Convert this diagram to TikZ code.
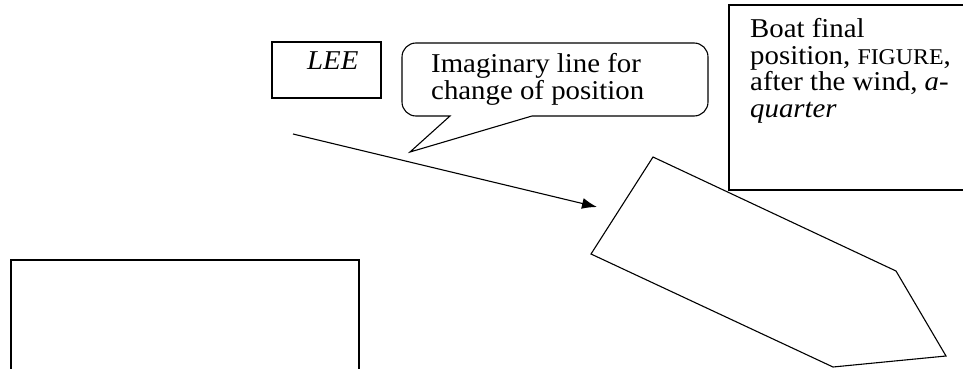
\documentclass[tikz,border=0pt]{standalone}
\usepackage{fontspec}
\setmainfont{Liberation Serif}[FakeStretch=1.06]
\usetikzlibrary{arrows.meta}
\tikzset{
  lbl/.style={anchor=base west, inner sep=0pt, font=\fontsize{27.2}{26.7}\selectfont, align=left},
  frame/.style={draw=black, line width=1.1pt},
}
\begin{document}
\begin{tikzpicture}[x=1pt,y=-1pt, line join=miter]
\useasboundingbox (0,0) rectangle (963,369);
\fill[white] (0,0) rectangle (963,369);
\begin{scope}
\clip (0,0) rectangle (963,369);
% LEE box
\draw[frame] (272,42) rectangle (381,98);
\node[lbl] (lee) at (307,70) {\itshape LEE};
% callout
\draw[frame] (450,116) [rounded corners=14pt] -- (402,116) -- (402,43) -- (708,43) -- (708,116) [sharp corners] -- (532,116) -- (410,152) -- cycle;
\node[lbl] (call1) at (431,72.7) {Imaginary line for};
\node[lbl] (call2) at (431,99.3) {change of position};
% boat final box
\draw[frame] (729,5) rectangle (980,190);
\node[lbl] (b1) at (750,37.3) {Boat final};
\node[lbl] (b2) at (750,64) {position, {\fontsize{22.5}{21}\selectfont FIGURE},};
\node[lbl] (b3) at (750,90.7) {after the wind, \textit{a}-};
\node[lbl] (b4) at (750,117.3) {\itshape quarter};
% bottom-left box
\draw[frame] (11,380) -- (11,260) -- (359,260) -- (359,380);
% boat
\coordinate (p1) at (653,157);
\coordinate (p2) at (896,271);
\coordinate (p3) at (946,356);
\coordinate (p4) at (833,367);
\coordinate (p5) at (591,254);
\draw[frame, fill=white] (p1) -- (p2) -- (p3) -- (p4) -- (p5) -- cycle;
% arrow
\coordinate (astart) at (293,134);
\coordinate (aend) at (597,207);
\draw[line width=1.1pt, -{Latex[length=15pt,width=11pt]}] (astart) -- (aend);
\end{scope}
\end{tikzpicture}
\end{document}
